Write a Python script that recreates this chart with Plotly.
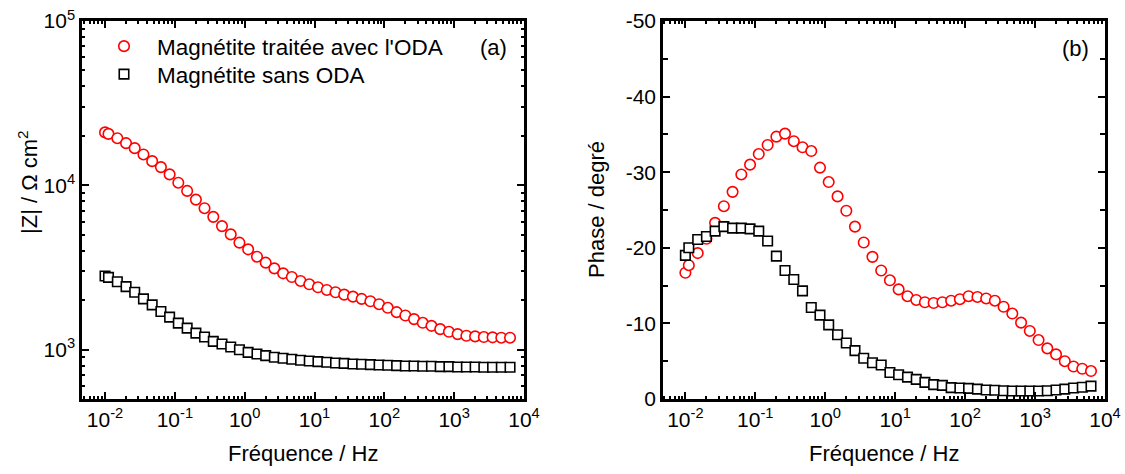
"""Bode plots (|Z| and phase) of magnetite with and without ODA."""

import plotly.graph_objects as go

RED = "#ff0000"
BLACK = "#000000"
FONT = "Arial, Liberation Sans, sans-serif"

freq_hz = [
    0.01, 0.0112, 0.0150, 0.0200, 0.0266, 0.0355, 0.0473, 0.0631, 0.0841, 0.112,
    0.150, 0.200, 0.266, 0.355, 0.473, 0.631, 0.841, 1.12, 1.50, 2.00,
    2.66, 3.55, 4.73, 6.31, 8.41, 11.2, 15.0, 20.0, 26.6, 35.5,
    47.3, 63.1, 84.1, 112, 150, 200, 266, 355, 473, 631,
    841, 1122, 1496, 1995, 2661, 3548, 4732, 6310,
]

z_oda = [
    21000, 20560, 19360, 18060, 16840, 15420, 14040, 12910, 11660, 10380,
    9250, 8190, 7260, 6430, 5650, 5030, 4480, 4080, 3680, 3385,
    3125, 2915, 2770, 2620, 2500, 2398, 2310, 2236, 2163, 2104,
    2037, 1972, 1891, 1798, 1692, 1615, 1535, 1458, 1397, 1334,
    1285, 1244, 1216, 1205, 1194, 1189, 1183, 1183,
]
z_bare = [
    2806, 2754, 2593, 2420, 2236, 2037, 1875, 1708, 1578, 1452,
    1353, 1262, 1194, 1124, 1082, 1038, 1000, 963, 942, 920,
    899, 887, 875, 862, 854, 846, 838, 830, 826, 818,
    815, 811, 807, 804, 800, 796, 796, 793, 793, 789,
    789, 785, 785, 785, 782, 782, 782, 782,
]

phase_oda = [
    -16.7, -17.7, -19.3, -21.2, -23.3, -25.5, -27.4, -29.7, -31.0, -32.4,
    -33.6, -34.7, -35.1, -34.1, -33.3, -32.8, -30.6, -28.7, -26.8, -24.9,
    -22.8, -20.7, -18.8, -17.0, -15.7, -14.5, -13.6, -13.1, -12.8, -12.7,
    -12.8, -13.0, -13.2, -13.6, -13.5, -13.3, -13.0, -12.2, -11.3, -10.1,
    -9.0, -7.8, -6.7, -5.9, -5.0, -4.3, -4.0, -3.7,
]
phase_bare = [
    -19.0, -20.0, -21.1, -21.5, -22.2, -22.8, -22.6, -22.6, -22.5, -22.2,
    -20.9, -18.9, -17.0, -15.8, -14.3, -12.1, -11.1, -9.8, -8.5, -7.4,
    -6.4, -5.4, -4.8, -4.5, -3.5, -3.2, -2.9, -2.6, -2.2, -1.9,
    -1.8, -1.5, -1.45, -1.4, -1.3, -1.2, -1.15, -1.1, -1.05, -1.05,
    -1.05, -1.05, -1.1, -1.2, -1.3, -1.45, -1.55, -1.7,
]

series_names = ["Magnétite traitée avec l'ODA", "Magnétite sans ODA"]

freq_tickvals = [0.01, 0.1, 1, 10, 100, 1000, 10000]
freq_ticktext = ["10<sup>-2</sup>", "10<sup>-1</sup>", "10<sup>0</sup>", "10<sup>1</sup>",
                 "10<sup>2</sup>", "10<sup>3</sup>", "10<sup>4</sup>"]
z_tickvals = [1000, 10000, 100000]
z_ticktext = ["10<sup>3</sup>", "10<sup>4</sup>", "10<sup>5</sup>"]
phase_tickvals = [0, -10, -20, -30, -40, -50]
phase_ticktext = ["0", "-10", "-20", "-30", "-40", "-50"]


def px_x(x):
    return x / 1125


def px_y(y):
    return 1 - y / 474


def circle_marker():
    return {"symbol": "circle", "size": 10.5, "color": "white", "line": {"color": RED, "width": 1.6}}


def square_marker():
    return {"symbol": "square", "size": 9.5, "color": "white", "line": {"color": BLACK, "width": 1.6}}


def legend_box(top_px):
    return {
        "x": px_x(91),
        "y": px_y(top_px),
        "xanchor": "left",
        "yanchor": "top",
        "bgcolor": "rgba(0,0,0,0)",
        "itemwidth": 56,
        "font": {"family": FONT, "size": 22.5, "color": BLACK},
    }


fig = go.Figure()
fig.add_trace(go.Scatter(x=freq_hz, y=z_oda, mode="markers", name=series_names[0],
                         marker=circle_marker(), xaxis="x", yaxis="y", legend="legend"))
fig.add_trace(go.Scatter(x=freq_hz, y=z_bare, mode="markers", name=series_names[1],
                         marker=square_marker(), xaxis="x", yaxis="y", legend="legend2"))
fig.add_trace(go.Scatter(x=freq_hz, y=phase_oda, mode="markers", name=series_names[0],
                         marker=circle_marker(), xaxis="x2", yaxis="y2", showlegend=False))
fig.add_trace(go.Scatter(x=freq_hz, y=phase_bare, mode="markers", name=series_names[1],
                         marker=square_marker(), xaxis="x2", yaxis="y2", showlegend=False))

axis_common = {
    "showline": True,
    "linecolor": BLACK,
    "linewidth": 2.5,
    "mirror": "ticks",
    "ticks": "inside",
    "ticklen": 7,
    "tickwidth": 2,
    "tickcolor": BLACK,
    "showgrid": False,
    "zeroline": False,
    "tickfont": {"family": FONT, "size": 21, "color": BLACK},
    "automargin": False,
    "tickmode": "array",
}
log_minor = {"ticks": "inside", "ticklen": 3.5, "tickwidth": 1.5, "tickcolor": BLACK, "dtick": "D1", "showgrid": False}

fig.update_layout(
    width=1125,
    height=474,
    margin={"l": 0, "r": 0, "t": 0, "b": 0},
    paper_bgcolor="white",
    plot_bgcolor="white",
    font={"family": FONT, "size": 22, "color": BLACK},
    xaxis={**axis_common, "type": "log", "domain": [px_x(82), px_x(524)], "range": [-2.33, 4.0],
           "tickvals": freq_tickvals, "ticktext": freq_ticktext, "minor": log_minor, "anchor": "y"},
    yaxis={**axis_common, "type": "log", "domain": [px_y(399), px_y(21)], "range": [2.70, 5.0],
           "tickvals": z_tickvals, "ticktext": z_ticktext, "minor": log_minor, "anchor": "x"},
    xaxis2={**axis_common, "type": "log", "domain": [px_x(663), px_x(1105)], "range": [-2.32, 4.0],
            "tickvals": freq_tickvals, "ticktext": freq_ticktext, "minor": log_minor, "anchor": "y2"},
    yaxis2={**axis_common, "domain": [px_y(399), px_y(21)], "range": [0, -50],
            "tickvals": phase_tickvals, "ticktext": phase_ticktext,
            "minor": {"ticks": "inside", "ticklen": 5, "tickwidth": 2, "tickcolor": BLACK, "dtick": 5},
            "anchor": "x2"},
    legend=legend_box(25),
    legend2=legend_box(53),
)

annotations = [
    ("Fréquence / Hz", px_x(303), px_y(453), 0),
    ("Fréquence / Hz", px_x(884), px_y(453), 0),
    ("|Z| / Ω cm<sup>2</sup>", px_x(28), px_y(182), -90),
    ("Phase / degré", px_x(597), px_y(210), -90),
    ("(a)", px_x(493), px_y(47), 0),
    ("(b)", px_x(1075), px_y(49), 0),
]
for text, x, y, angle in annotations:
    fig.add_annotation(text=text, x=x, y=y, xref="paper", yref="paper", showarrow=False,
                       textangle=angle, xanchor="center", yanchor="middle",
                       font={"family": FONT, "size": 22, "color": BLACK})

fig.write_html("out.html", config={"displayModeBar": False},
               post_script="document.body.style.margin = '0';")
